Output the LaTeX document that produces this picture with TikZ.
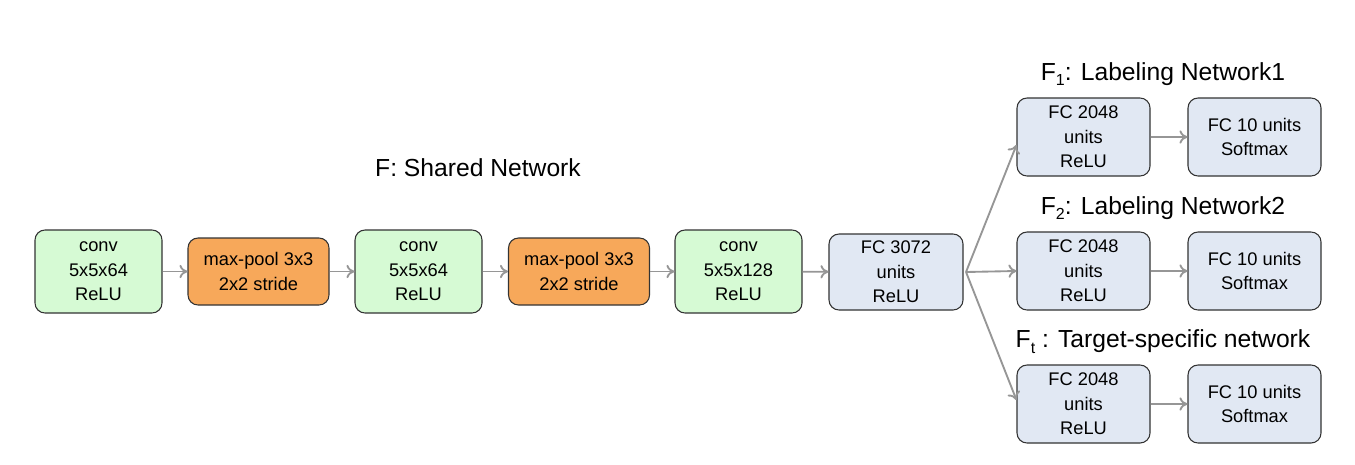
\documentclass[tikz,border=0pt]{standalone}
\usepackage{fontspec}
\setmainfont{Liberation Sans}
\usetikzlibrary{arrows.meta}
\definecolor{convgreen}{RGB}{214,250,212}
\definecolor{poolorange}{RGB}{247,168,90}
\definecolor{fcblue}{RGB}{225,232,243}
\definecolor{arrowgray}{RGB}{150,150,150}
\newcommand{\lowsub}[1]{\raisebox{-0.45ex}{\fontsize{12}{12}\selectfont #1}}
\tikzset{
  layer/.style={draw=black!80, line width=0.8pt, rounded corners=7.5pt, align=center, inner sep=0pt,
    font=\fontsize{13.7}{18.4}\selectfont},
  convbox/.style={layer, fill=convgreen, minimum width=95.25pt, minimum height=62.25pt},
  poolbox/.style={layer, fill=poolorange, minimum width=105.75pt, minimum height=50.25pt},
  fcbox/.style={layer, fill=fcblue, minimum width=99.75pt, minimum height=58.5pt},
  title/.style={font=\fontsize{18.5}{22}\selectfont},
  link/.style={draw=arrowgray, line width=1.4pt, -{To[length=6pt,width=10pt]}}
}
\begin{document}
\begin{tikzpicture}[x=0.75pt,y=-0.75pt]
\useasboundingbox (0,0) rectangle (1355,464);
\node[convbox] (conva) at (98.5,271.5) {conv\\5x5x64\\ReLU};
\node[poolbox] (poola) at (258.5,271.5) {max-pool 3x3\\2x2 stride};
\node[convbox] (convb) at (418.5,271.5) {conv\\5x5x64\\ReLU};
\node[poolbox] (poolb) at (579,271.5) {max-pool 3x3\\2x2 stride};
\node[convbox] (convc) at (738.5,271.5) {conv\\5x5x128\\ReLU};
\node[fcbox, minimum width=100.5pt, minimum height=57pt] (fcs) at (896,272) {FC 3072\\units\\ReLU};
\node[title] (tshared) at (478,168) {F: Shared Network};
\node[fcbox] (fca) at (1083.5,137) {FC 2048\\units\\ReLU};
\node[fcbox] (fcb) at (1083.5,271) {FC 2048\\units\\ReLU};
\node[fcbox] (fct) at (1083.5,404) {FC 2048\\units\\ReLU};
\node[fcbox] (sma) at (1254.5,137) {FC 10 units\\Softmax};
\node[fcbox] (smb) at (1254.5,271) {FC 10 units\\Softmax};
\node[fcbox] (smt) at (1254.5,404) {FC 10 units\\Softmax};
\node[title] (ta) at (1163,74) {F\lowsub{1}: Labeling Network1};
\node[title] (tb) at (1163,208) {F\lowsub{2}: Labeling Network2};
\node[title] (tt) at (1163,342) {F\lowsub{t} : Target-specific network};
\coordinate (fork) at (966,272);
\draw[link] (conva) -- (poola);
\draw[link] (poola) -- (convb);
\draw[link] (convb) -- (poolb);
\draw[link] (poolb) -- (convc);
\draw[link] (convc) -- (fcs);
\draw[link] (fork) -- ([yshift=-6pt]fca.west);
\draw[link] (fork) -- (fcb.west);
\draw[link] (fork) -- ([yshift=3pt]fct.west);
\draw[link] (fca) -- (sma);
\draw[link] (fcb) -- (smb);
\draw[link] (fct) -- (smt);
\end{tikzpicture}
\end{document}
